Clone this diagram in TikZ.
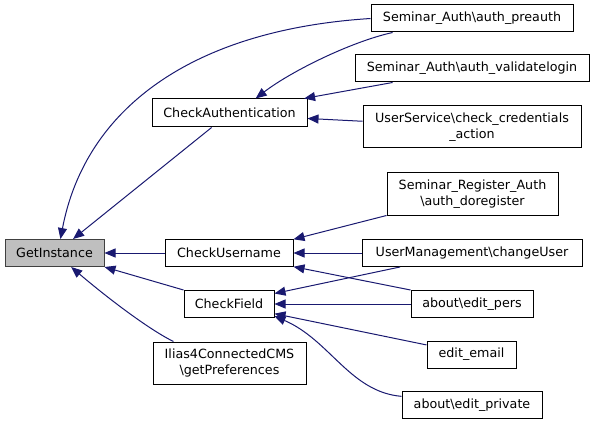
\documentclass[tikz,border=0pt]{standalone}
\usepackage{fontspec}
\setmainfont{DejaVu Sans}
\usetikzlibrary{arrows.meta}
\definecolor{EdgeBlue}{HTML}{191970}
\definecolor{FocusGray}{HTML}{BFBFBF}
\newcommand{\bsl}{\textbackslash}
\begin{document}
\begin{tikzpicture}[
  x=1pt,y=1pt,
  every node/.style={font=\fontsize{12.7}{16}\selectfont},
  fn/.style={draw=black,line width=1pt,fill=white,
    minimum height=27,align=center,inner sep=0pt},
  focus/.style={fn,draw=black!75,fill=FocusGray},
  call/.style={-{Triangle[length=11pt,width=9pt]},line width=1pt,color=EdgeBlue}
]
  \useasboundingbox (0,0) rectangle (595,424);
  \node[focus,minimum width=99] (gi) at (54.5,171) {GetInstance};
  \node[fn,minimum width=155,minimum height=28] (ca) at (229.5,311) {CheckAuthentication};
  \node[fn,minimum width=128] (cu) at (229,171) {CheckUsername};
  \node[fn,minimum width=90] (cf) at (229,120) {CheckField};
  \node[fn,minimum width=153,minimum height=42] (ilias) at (229.5,61)
    {Ilias4ConnectedCMS\\\bsl getPreferences};

  \node[fn,minimum width=202] (preauth) at (472,405.5) {Seminar\_Auth\bsl auth\_preauth};
  \node[fn,minimum width=234] (validate) at (472,355.5) {Seminar\_Auth\bsl auth\_validatelogin};
  \node[fn,minimum width=218,minimum height=42] (cred) at (472,297)
    {UserService\bsl check\_credentials\\\_action};
  \node[fn,minimum width=171,minimum height=42] (doreg) at (472.5,230)
    {Seminar\_Register\_Auth\\\bsl auth\_doregister};
  \node[fn,minimum width=220] (chuser) at (472,171) {UserManagement\bsl changeUser};
  \node[fn,minimum width=122] (epers) at (472,120) {about\bsl edit\_pers};
  \node[fn,minimum width=89] (eemail) at (471.5,69.5) {edit\_email};
  \node[fn,minimum width=140] (epriv) at (472,19) {about\bsl edit\_private};

  \draw[call] (preauth.west) .. controls (190,394) and (85,314) .. (gi.67);
  \draw[call] (ca.219) -- (gi.37);
  \draw[call] (preauth.190) .. controls (350,382) and (290,352) .. (ca.29);
  \draw[call] (validate.190) -- (ca.11);
  \draw[call] (cred.177) -- (ca.-4);
  \draw[call] (doreg.south west) -- (cu.12);
  \draw[call] (chuser) -- (cu);
  \draw[call] (epers.north west) -- (cu.-12);
  \draw[call] (chuser.191) -- (cf.13);
  \draw[call] (epers) -- (cf);
  \draw[call] (eemail.168) -- (cf.-12);
  \draw[call] (epriv.173) .. controls (350,32) and (330,84) .. (cf.-15);
  \draw[call] (cu) -- (gi);
  \draw[call] (cf.north west) -- (gi.south east);
  \draw[call] (ilias.159) .. controls (150,94) and (110,124) .. (gi.-40);
\end{tikzpicture}
\end{document}
